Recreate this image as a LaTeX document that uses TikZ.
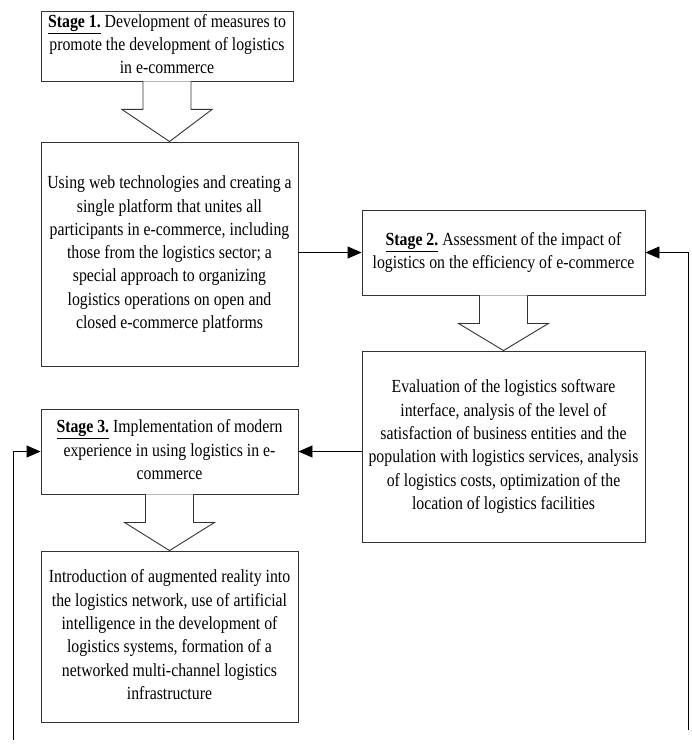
\documentclass[tikz,border=0pt]{standalone}
\usepackage{fontspec}
\setmainfont{Liberation Serif}
\usepackage{graphicx}
\usetikzlibrary{calc,arrows.meta}
\newcommand\boxtxt[1]{\scalebox{1}[1.17]{\begin{tabular}{@{}c@{}}#1\end{tabular}}}
\newcommand\stg[1]{\underline{\textbf{#1}}}
\begin{document}
\begin{tikzpicture}[x=1pt,y=-1pt,
  boxnode/.style={draw=black!80,line width=0.9pt,fill=white,inner sep=0pt,
    font=\fontsize{15.8}{19.9}\selectfont,anchor=center},
  blk/.style={draw=black!80,line width=0.9pt,fill=white,line join=miter},
  arr/.style={draw=black,line width=0.9pt,-{Triangle[length=14pt,width=12pt]}}]
\useasboundingbox (0,0) rectangle (692,746);

\node[boxnode,minimum width=252pt,minimum height=70pt] (b1) at (167,46)
  {\boxtxt{\stg{Stage 1.} Development of measures to\\ promote the development of logistics\\ in e-commerce}};
\node[boxnode,minimum width=257pt,minimum height=224pt] (b2) at (169.5,254)
  {\boxtxt{Using web technologies and creating a\\ single platform that unites all\\ participants in e-commerce, including\\ those from the logistics sector; a\\ special approach to organizing\\ logistics operations on open and\\ closed e-commerce platforms}};
\node[boxnode,minimum width=283pt,minimum height=85pt] (s2) at (503.5,252.5)
  {\boxtxt{\stg{Stage 2.} Assessment of the impact of\\ logistics on the efficiency of e-commerce}};
\node[boxnode,minimum width=283pt,minimum height=191pt] (b4) at (503.5,446.5)
  {\boxtxt{Evaluation of the logistics software\\ interface, analysis of the level of\\ satisfaction of business entities and the\\ population with logistics services, analysis\\ of logistics costs, optimization of the\\ location of logistics facilities}};
\node[boxnode,minimum width=257pt,minimum height=85pt] (s3) at (169.5,451.5)
  {\boxtxt{\stg{Stage 3.} Implementation of modern\\ experience in using logistics in e-\\ commerce}};
\node[boxnode,minimum width=257pt,minimum height=171pt] (b6) at (169.5,636.5)
  {\boxtxt{Introduction of augmented reality into\\ the logistics network, use of artificial\\ intelligence in the development of\\ logistics systems, formation of a\\ networked multi-channel logistics\\ infrastructure}};

% block arrows
\foreach \a/\b in {b1/b2, s2/b4, s3/b6}{
  \draw[blk] ($(\a.south)+(-24,0)$) -- ($(\a.south)+(-24,28)$) -- ($(\a.south)+(-45,28)$)
    -- (\b.north) -- ($(\a.south)+(45,28)$) -- ($(\a.south)+(24,28)$) -- ($(\a.south)+(24,0)$);
}

% connectors
\draw[arr] (b2.east |- s2.west) -- (s2.west);
\draw[arr] (b4.west |- s3.east) -- (s3.east);
\coordinate (rb) at (688,730);
\coordinate (lb) at (13,740);
\draw[arr] (rb) |- (s2.east);
\draw[arr] (lb) |- (s3.west);
\end{tikzpicture}
\end{document}
